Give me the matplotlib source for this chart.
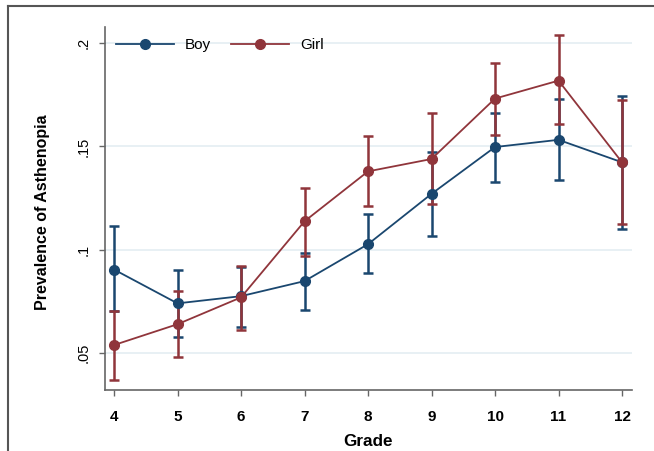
import matplotlib
matplotlib.use("Agg")
import matplotlib.pyplot as plt
from matplotlib.lines import Line2D

grades = [4, 5, 6, 7, 8, 9, 10, 11, 12]
boy = [0.0903, 0.0739, 0.0774, 0.0847, 0.1026, 0.1270, 0.1497, 0.1532, 0.1423]
boy_lo = [0.0701, 0.0574, 0.0625, 0.0706, 0.0884, 0.1064, 0.1327, 0.1339, 0.1102]
boy_hi = [0.1114, 0.0903, 0.0915, 0.0984, 0.1174, 0.1472, 0.1664, 0.1729, 0.1745]
girl = [0.0537, 0.0638, 0.0768, 0.1137, 0.1379, 0.1439, 0.1732, 0.1819, 0.1423]
girl_lo = [0.0367, 0.0480, 0.0611, 0.0968, 0.1210, 0.1220, 0.1555, 0.1607, 0.1126]
girl_hi = [0.0703, 0.0800, 0.0921, 0.1300, 0.1549, 0.1664, 0.1906, 0.2038, 0.1723]
yticks = [0.05, 0.1, 0.15, 0.2]
yticklabels = [".05", ".1", ".15", ".2"]

plt.rcParams['font.family'] = ['Liberation Sans', 'DejaVu Sans']

NAVY = "#1a476f"
MAROON = "#90353b"
GRID = "#e4eef2"
AXC = "#666666"

fig = plt.figure(figsize=(6.54, 4.51), dpi=100)
ax = fig.add_axes([105/654, 1-390/451, (632-105)/654, (390-27)/451])

for y, lo, hi, c, lab in [(boy, boy_lo, boy_hi, NAVY, "Boy"), (girl, girl_lo, girl_hi, MAROON, "Girl")]:
    yerr = [[v - l for v, l in zip(y, lo)], [h - v for v, h in zip(y, hi)]]
    ax.errorbar(grades, y, yerr=yerr, fmt='none', ecolor=c, elinewidth=1.8,
                capsize=3.6, capthick=1.8, zorder=3)
    ax.plot(grades, y, color=c, lw=1.3, marker='o', markersize=7, zorder=4, label=lab)

ax.set_xlim(3.858, 12.157)
ax.set_ylim(0.0319, 0.2079)
ax.set_xticks(grades)
ax.set_xticklabels([str(g) for g in grades], fontsize=11, fontweight='bold')
ax.set_yticks(yticks)
ax.set_yticklabels(yticklabels, fontsize=10.5, rotation=90, va='center')
ax.grid(axis='y', color=GRID, lw=1.2)
ax.set_axisbelow(True)
for s in ['top', 'right']:
    ax.spines[s].set_visible(False)
for s in ['left', 'bottom']:
    ax.spines[s].set_color(AXC)
    ax.spines[s].set_linewidth(1.2)
ax.tick_params(axis='both', direction='out', length=4, width=1, color=AXC)
ax.tick_params(axis='x', pad=10.5)
ax.tick_params(axis='y', pad=6)
ax.set_xlabel("Grade", fontsize=12.3, fontweight='bold', labelpad=7)
ax.set_ylabel("Prevalence of Asthenopia", fontsize=11.5, fontweight='bold')
ax.yaxis.set_label_coords(-0.1044, 0.489)

leg = ax.legend(loc='center left', bbox_to_anchor=(0.0, 1 - 18/363), ncol=2, frameon=False,
                handlelength=3.8, fontsize=11, columnspacing=1.35, handletextpad=0.7,
                borderaxespad=0.3)

# outer frame (left and top edges)
fig.add_artist(Line2D([8/654, 8/654], [0, 1-6/451], color="#555555", lw=1.5, transform=fig.transFigure))
fig.add_artist(Line2D([8/654, 1], [1-6/451, 1-6/451], color="#555555", lw=1.5, transform=fig.transFigure))

fig.savefig("out.png", dpi=100)
